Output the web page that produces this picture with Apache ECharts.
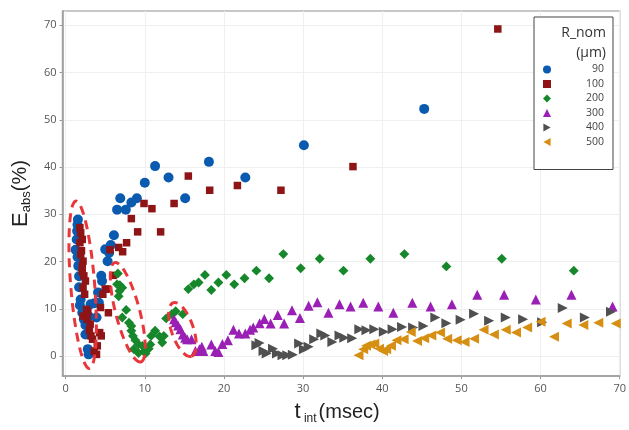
<!DOCTYPE html>
<html>
<head>
<meta charset="utf-8">
<script src="https://cdn.jsdelivr.net/npm/echarts@6/dist/echarts.min.js"></script>
<style>html,body{margin:0;padding:0;background:#fff;}#c{width:629px;height:430px;}</style>
</head>
<body>
<div id="c"></div>
<script>
// ---- data: [t_int (msec), E_abs (%)] ----
const seriesNames = ['90', '100', '200', '300', '400', '500'];
const xTicks = [0, 10, 20, 30, 40, 50, 60, 70];
const yTicks = [0, 10, 20, 30, 40, 50, 60, 70];

const r90 = [
  [1.55,28.9],[1.5,27.8],[1.45,26.5],[1.4,24.7],[1.26,22.5],[1.5,21.0],[1.6,19.1],[1.7,16.9],[1.7,14.6],[1.9,12.0],
  [1.8,10.8],[2.1,9.2],[2.3,7.8],[2.5,6.6],[2.5,4.6],[2.8,1.5],[2.9,0.4],
  [2.95,8.4],[3.15,11.0],[3.65,11.2],[3.9,8.2],[4.1,13.5],[4.2,11.3],[4.5,17.0],[4.6,15.9],[5.0,22.6],[5.3,20.1],
  [5.5,21.9],[5.7,23.5],[6.1,25.6],
  [6.5,31.0],[6.9,33.4],[7.6,31.0],[8.3,32.5],[9.0,33.4],[10.0,36.7],[11.3,40.2],[13.0,37.8],[15.1,33.4],
  [18.1,41.1],[22.7,37.8],[30.1,44.6],[45.3,52.3]
];
const r100 = [
  [1.8,27.2],[1.9,26.1],[2.1,24.7],[1.8,24.0],[2.0,22.3],[1.9,21.5],[2.2,20.1],[2.1,19.0],[2.1,17.8],[2.3,17.0],
  [2.5,15.9],[2.2,14.5],[2.4,13.1],[2.65,9.9],[2.8,9.3],[2.2,8.5],[2.7,7.8],[3.1,6.8],[3.0,5.5],[3.2,4.3],
  [3.4,3.6],[3.6,1.1],[3.9,0.4],[4.0,2.2],[4.3,5.0],[4.5,4.3],[4.4,10.3],[5.4,9.2],[4.7,13.1],[5.0,14.2],
  [5.3,14.2],[6.0,17.1],[5.6,22.5],[6.7,23.0],[7.2,22.1],[7.7,24.0],[8.3,29.1],[9.1,26.3],[9.9,32.3],[10.9,31.2],
  [12.0,26.3],[13.7,32.3],[15.5,38.1],[18.2,35.1],[21.7,36.1],[27.2,35.1],[36.3,40.1],[54.6,69.2]
];
const r200 = [
  [6.6,17.5],[6.5,15.2],[6.85,15.0],[7.15,14.5],[6.8,13.8],[6.7,12.7],[7.65,9.8],[7.15,8.2],[8.0,7.1],[8.3,6.4],
  [8.3,5.4],[8.5,4.3],[8.8,3.4],[8.6,1.5],[9.2,2.5],[9.7,2.2],[10.0,1.1],[9.2,0.7],[10.5,1.6],[10.1,0.6],
  [10.7,2.5],[11.3,5.4],[10.8,4.3],[11.85,4.2],[12.2,2.9],[12.4,4.3],[12.7,8.0],[13.4,8.9],[13.9,9.5],[14.8,8.9],
  [15.5,14.2],[16.2,15.2],[16.8,15.6],[17.6,17.2],[18.4,14.0],[19.3,15.6],[20.3,17.2],[21.3,15.2],[22.6,16.5],
  [24.1,18.1],[25.7,16.5],[27.5,21.6],[29.7,18.6],[32.1,20.6],[35.1,18.1],[38.5,20.6],[42.8,21.6],[48.1,19.0],
  [55.1,20.6],[64.2,18.1]
];
const r300 = [
  [13.7,7.8],[13.9,7.2],[14.2,6.5],[14.5,5.7],[14.8,4.6],[15.1,3.9],[15.35,3.6],[15.9,3.6],[16.4,1.1],[16.9,1.5],
  [17.4,1.1],[17.2,2.0],[18.4,2.5],[18.9,1.1],[19.3,0.9],[19.8,2.6],[20.5,3.4],[21.2,5.6],[21.9,4.8],[22.7,4.8],
  [23.3,5.6],[23.7,6.1],[24.5,7.0],[25.1,7.9],[25.9,6.9],[26.8,8.7],[27.6,6.9],[28.6,9.7],[29.6,8.1],[30.7,10.7],
  [31.8,11.4],[33.2,9.2],[34.6,11.0],[36.0,10.5],[37.6,11.3],[39.5,10.5],[41.4,9.2],[43.8,11.3],[46.1,10.5],
  [48.8,11.0],[52.0,13.0],[55.4,13.0],[59.4,12.0],[63.9,13.0],[69.1,10.5]
];
const r400 = [
  [24.1,2.3],[24.5,2.8],[25.0,1.1],[25.4,0.6],[26.2,1.6],[26.7,0.6],[27.4,0.2],[28.0,0.2],[28.7,0.3],[29.5,2.7],
  [30.1,1.5],[30.7,2.0],[31.4,3.6],[32.3,4.8],[32.8,4.4],[33.7,3.0],[34.6,4.4],[35.2,3.9],[36.2,3.8],[37.1,5.7],
  [38.0,5.5],[39.0,5.7],[40.2,5.2],[41.3,5.7],[42.5,6.2],[43.9,6.1],[45.2,6.4],[46.7,8.2],[48.1,7.0],[49.9,7.7],
  [51.6,9.0],[53.5,7.5],[55.6,8.2],[57.8,7.8],[60.2,7.2],[62.8,10.2],[65.6,8.2],[68.9,9.4]
];
const r500 = [
  [37.0,0.2],[37.6,1.5],[37.95,2.2],[38.5,2.5],[39.0,2.7],[39.6,1.6],[40.1,1.1],[40.5,1.5],[41.1,2.2],[41.8,3.4],
  [42.7,3.6],[43.6,5.1],[44.4,3.2],[45.3,3.8],[46.2,4.4],[47.3,5.0],[48.2,3.7],[49.4,3.4],[50.4,3.0],[51.6,3.7],
  [52.8,5.6],[54.1,4.6],[55.6,5.6],[56.9,5.0],[58.3,6.1],[60.0,7.3],[61.7,4.1],[63.3,6.9],[65.4,6.6],[67.3,7.1],
  [69.5,6.9]
];
// red dashed annotation ellipses: ends of major axis in data units, half-width in px
const ellipseEnds = [
  [[1.3, 32.8], [3.0, -2.6], 12],
  [[6.2, 19.8], [9.5, -1.2], 12],
  [[13.6, 11.3], [15.9, 0.0], 11]
];

const seriesData = [r90, r100, r200, r300, r400, r500];
const colors = ['#0a5bb0', '#8e1416', '#17872b', '#9a1fb5', '#505050', '#d68f12'];
const symbols = ['circle', 'rect', 'rect', 'triangle', 'triangle', 'triangle'];
const legendIcons = ['circle', 'rect', 'path://M5,0 L10,5 L5,10 L0,5 Z', 'triangle',
  'path://M0,0 L9,5 L0,10 Z', 'path://M9,0 L0,5 L9,10 Z'];
const sizes = [10, 7.5, 7, 10, 10, 10];
const rotates = [0, 0, 45, 0, -90, 90];

const chart = echarts.init(document.getElementById('c'), null, {renderer: 'canvas'});
const tickFont = {fontFamily: 'Open Sans', fontSize: 11, color: '#555'};

const option = {
  backgroundColor: '#fff',
  animation: false,
  grid: {left: 62, right: 9, top: 11, bottom: 53, show: true, borderColor: '#b5b5b5', borderWidth: 1.5, backgroundColor: '#fff'},
  xAxis: {
    type: 'value', min: -0.4, max: 70,
    axisLine: {show: true, onZero: false, lineStyle: {color: '#9a9a9a', width: 1.5}},
    axisTick: {show: true, length: 3, lineStyle: {color: '#9a9a9a'}, customValues: xTicks},
    axisLabel: Object.assign({margin: 7, customValues: xTicks}, tickFont),
    splitLine: {show: true, lineStyle: {color: '#efefef', width: 1}},
    name: '{t|t}{sub| int}{u|(msec)}',
    nameLocation: 'middle', nameGap: 18,
    nameTextStyle: {
      fontFamily: 'Liberation Sans', color: '#222', padding: [0, 8, 0, 0],
      rich: {
        t: {fontSize: 22, lineHeight: 22, fontFamily: 'Liberation Sans', color: '#222'},
        sub: {fontSize: 12, lineHeight: 12, padding: [14, 2, 0, 0], fontFamily: 'Liberation Sans', color: '#222'},
        u: {fontSize: 20, lineHeight: 22, fontFamily: 'Liberation Sans', color: '#222'}
      }
    }
  },
  yAxis: {
    type: 'value', min: -4.2, max: 73,
    axisLine: {show: true, onZero: false, lineStyle: {color: '#9a9a9a', width: 1.5}},
    axisTick: {show: true, length: 3, lineStyle: {color: '#9a9a9a'}, customValues: yTicks},
    axisLabel: Object.assign({margin: 6, customValues: yTicks}, tickFont),
    splitLine: {show: true, lineStyle: {color: '#efefef', width: 1}},
    name: '{e|E}{sub|abs}{u|(%)}',
    nameLocation: 'middle', nameGap: 26, nameRotate: 90,
    nameTextStyle: {
      fontFamily: 'Liberation Sans', color: '#222',
      rich: {
        e: {fontSize: 22, lineHeight: 22, fontFamily: 'Liberation Sans', color: '#222'},
        sub: {fontSize: 13, lineHeight: 13, padding: [12, 0, 0, 0], fontFamily: 'Liberation Sans', color: '#222'},
        u: {fontSize: 20, lineHeight: 22, fontFamily: 'Liberation Sans', color: '#222'}
      }
    }
  },
  legend: {
    orient: 'vertical', left: 534, top: 17,
    padding: [47, 9, 22, 9],
    itemWidth: 8, itemHeight: 8, itemGap: 3.5,
    borderColor: '#444', borderWidth: 1, backgroundColor: '#fff',
    data: seriesNames.map(function (n, i) {
      return {name: n, icon: legendIcons[i]};
    }),
    formatter: function (n) { return '{a|' + n + '}'; },
    textStyle: {
      color: '#444', fontFamily: 'Open Sans', fontSize: 10.5,
      rich: {a: {width: 48, align: 'right', fontSize: 10.5, lineHeight: 10, fontFamily: 'Open Sans', color: '#444'}}
    }
  },
  series: seriesNames.map(function (n, i) {
    return {
      name: n, type: 'scatter', data: seriesData[i],
      symbol: symbols[i], symbolSize: sizes[i], symbolRotate: rotates[i],
      itemStyle: {color: colors[i], opacity: 1},
      z: 3 + i
    };
  })
};
chart.setOption(option);

function ellipsePoints(e) {
  const a = chart.convertToPixel({gridIndex: 0}, e[0]);
  const b = chart.convertToPixel({gridIndex: 0}, e[1]);
  const cx = (a[0] + b[0]) / 2, cy = (a[1] + b[1]) / 2;
  const dx = b[0] - a[0], dy = b[1] - a[1];
  const L = Math.sqrt(dx * dx + dy * dy);
  const ux = dx / L, uy = dy / L, vx = -uy, vy = ux;
  const A = L / 2, B = e[2];
  const pts = [];
  for (let k = 0; k < 90; k++) {
    const th = k / 90 * Math.PI * 2;
    const p = A * Math.cos(th), q = B * Math.sin(th);
    pts.push([cx + p * ux + q * vx, cy + p * uy + q * vy]);
  }
  return pts;
}

chart.setOption({
  graphic: ellipseEnds.map(function (e) {
    return {
      type: 'polygon', z: 100, silent: true,
      shape: {points: ellipsePoints(e)},
      style: {fill: 'none', stroke: '#e8363a', lineWidth: 3, lineDash: [9, 6]}
    };
  }).concat([
    {type: 'text', z: 120, right: 629 - 606, top: 26,
     style: {text: 'R_nom', font: '14px "Open Sans"', fill: '#333', textAlign: 'right'}},
    {type: 'text', z: 120, right: 629 - 606, top: 46,
     style: {text: '(μm)', font: '14px "Open Sans"', fill: '#333', textAlign: 'right'}}
  ])
});
</script>
</body>
</html>
